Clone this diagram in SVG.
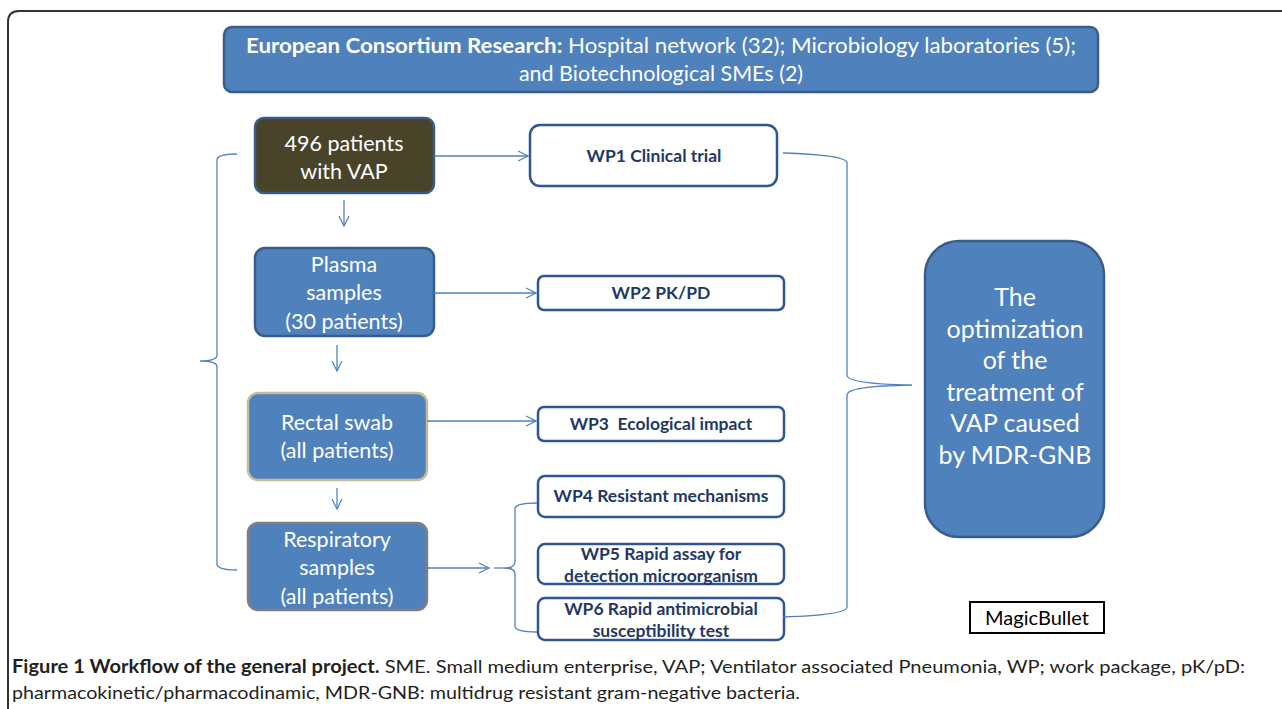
<svg xmlns="http://www.w3.org/2000/svg" width="1282" height="709" viewBox="0 0 1282 709">
<defs>
<style>
.blue{fill:#4F81BD;stroke:#385D8A;stroke-width:2.5}
.wp{fill:#ffffff;stroke:#2F5597;stroke-width:2.5}
.wt{font-family:Lato,"Liberation Sans",sans-serif;font-weight:bold;font-size:17.5px;fill:#1F3864;text-anchor:middle}
.nt{font-family:Lato,"Liberation Sans",sans-serif;font-size:21.5px;fill:#ffffff;text-anchor:middle}
.gt{font-family:Lato,"Liberation Sans",sans-serif;font-size:25px;fill:#ffffff;text-anchor:middle}
.con{fill:none;stroke:#4F81BD;stroke-width:1.3}
.cap{font-family:Lato,"Liberation Sans",sans-serif;font-size:18px;fill:#231F20}
</style>
<marker id="ah" viewBox="0 0 12 12" refX="11" refY="6" markerWidth="12" markerHeight="12" markerUnits="userSpaceOnUse" orient="auto">
<path d="M1,1 L11,6 L1,11" fill="none" stroke="#4F81BD" stroke-width="1.2"/>
</marker>
</defs>
<rect width="1282" height="709" fill="#ffffff"/>
<path d="M8,709 V22 Q8,11 19,11 H1282" fill="none" stroke="#333333" stroke-width="2"/>

<g id="header">
<rect x="224" y="27" width="874" height="65" rx="8" class="blue"/>
<text x="661" y="53" class="nt" font-size="19" textLength="830" lengthAdjust="spacingAndGlyphs"><tspan font-weight="bold">European Consortium Research:</tspan> Hospital network (32); Microbiology  laboratories (5);</text>
<text x="661" y="81" class="nt" font-size="19">and Biotechnological SMEs (2)</text>
</g>

<g id="patients">
<rect x="255" y="118" width="179" height="75" rx="9" fill="#494429" stroke="#385D8A" stroke-width="2.5"/>
<text x="344" y="151" class="nt">496 patients</text>
<text x="344" y="179" class="nt">with VAP</text>
</g>
<g id="plasma">
<rect x="255" y="248" width="179" height="88" rx="10" class="blue"/>
<text x="344" y="272" class="nt">Plasma</text>
<text x="344" y="300" class="nt">samples</text>
<text x="344" y="329" class="nt">(30 patients)</text>
</g>
<g id="rectal">
<rect x="248" y="393" width="179" height="87" rx="10" fill="#4F81BD" stroke="#C4BD97" stroke-width="2.5"/>
<text x="337" y="430" class="nt">Rectal swab</text>
<text x="337" y="458" class="nt">(all patients)</text>
</g>
<g id="respiratory">
<rect x="248" y="523" width="179" height="87" rx="10" fill="#4F81BD" stroke="#7F7F7F" stroke-width="2.5"/>
<text x="337" y="547" class="nt">Respiratory</text>
<text x="337" y="575" class="nt">samples</text>
<text x="337" y="604" class="nt">(all patients)</text>
</g>

<g id="wp1">
<rect x="530" y="125" width="247" height="61" rx="10" class="wp"/>
<text x="654" y="162" class="wt">WP1 Clinical trial</text>
</g>
<g id="wp2">
<rect x="538" y="276" width="246" height="34" rx="6" class="wp"/>
<text x="661" y="299" class="wt">WP2 PK/PD</text>
</g>
<g id="wp3">
<rect x="538" y="407" width="246" height="34" rx="6" class="wp"/>
<text x="661" y="430" class="wt" xml:space="preserve">WP3  Ecological impact</text>
</g>
<g id="wp4">
<rect x="538" y="476" width="246" height="41" rx="7" class="wp"/>
<text x="661" y="502" class="wt">WP4 Resistant mechanisms</text>
</g>
<g id="wp5">
<rect x="538" y="544" width="246" height="40" rx="7" class="wp"/>
<text x="661" y="560" class="wt">WP5 Rapid assay for</text>
<text x="661" y="582" class="wt">detection microorganism</text>
</g>
<g id="wp6">
<rect x="538" y="598" width="246" height="42" rx="7" class="wp"/>
<text x="661" y="615" class="wt">WP6 Rapid antimicrobial</text>
<text x="661" y="637" class="wt">susceptibility test</text>
</g>

<g id="goal">
<rect x="925" y="241" width="179" height="296" rx="34" class="blue"/>
<text x="1015" y="306" class="gt">The</text>
<text x="1015" y="338" class="gt">optimization</text>
<text x="1015" y="369" class="gt">of the</text>
<text x="1015" y="401" class="gt">treatment of</text>
<text x="1015" y="432" class="gt">VAP caused</text>
<text x="1015" y="464" class="gt">by MDR-GNB</text>
</g>

<g id="magicbullet">
<rect x="970" y="602" width="134" height="31" fill="#ffffff" stroke="#000000" stroke-width="2"/>
<text x="1037" y="625" font-family="Lato,'Liberation Sans',sans-serif" font-size="20" fill="#000000" text-anchor="middle">MagicBullet</text>
</g>

<g id="connectors">
<path d="M434,156 H528" class="con" marker-end="url(#ah)"/>
<path d="M344,200 V226" class="con" marker-end="url(#ah)"/>
<path d="M434,293 H536" class="con" marker-end="url(#ah)"/>
<path d="M337,345 V371" class="con" marker-end="url(#ah)"/>
<path d="M427,421 H536" class="con" marker-end="url(#ah)"/>
<path d="M337,488 V509" class="con" marker-end="url(#ah)"/>
<path d="M427,568 H489" class="con" marker-end="url(#ah)"/>
<path d="M494,568 H504" class="con" stroke-width="2"/>
<path d="M237,154 Q217,154 217,160 V355 Q217,361 200,361 Q217,361 217,367 V564 Q217,570 237,570" class="con"/>
<path d="M783,153 Q847,155 847,163 V375 Q847,384 912,385 Q847,386 847,395 V607 Q847,615 783,617" class="con"/>
<path d="M537,503 Q515,503 515,509 V562 Q515,568 504,568 Q515,568 515,574 V626 Q515,632 537,632" class="con"/>
</g>

<g id="caption">
<text x="12" y="673" class="cap" textLength="1233" lengthAdjust="spacingAndGlyphs"><tspan font-weight="bold">Figure 1 Workflow of the general project.</tspan> SME. Small medium enterprise, VAP; Ventilator associated Pneumonia, WP; work package, pK/pD:</text>
<text x="12" y="699" class="cap" textLength="788" lengthAdjust="spacingAndGlyphs">pharmacokinetic/pharmacodinamic, MDR-GNB: multidrug resistant gram-negative bacteria.</text>
</g>
</svg>
